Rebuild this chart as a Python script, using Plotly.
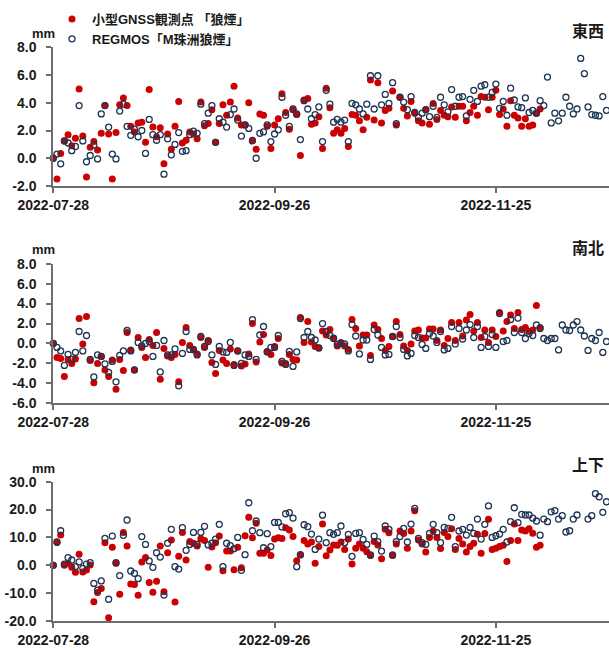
import plotly.graph_objects as go
import pandas as pd

start_date = "2022-07-28"
tick_dates = ["2022-07-28", "2022-09-26", "2022-11-25"]
panel_titles = ["東西", "南北", "上下"]
series_names = ["小型GNSS観測点 「狼煙」", "REGMOS「M珠洲狼煙」"]

# 東西 (mm)
ew_gnss = [0.0, -1.5, 0.35, 1.25, 1.7, 0.9, 1.45, 5.0, 1.6, -1.35, 0.8, 1.2, 0.6, 1.8, 3.8, 1.75, -1.5, 1.85, 3.85, 4.35,
           3.8, 2.3, 1.9, 2.55, 2.6, 1.15, 4.95, 2.25, 1.55, 2.2, -0.4, 1.75, 0.65, 2.3, 4.1, 1.1, 1.3, 1.9, 1.75, 1.4,
           4.05, 2.35, 2.5, 3.5, 1.15, 2.5, 3.85, 3.1, 4.05, 5.2, 2.9, 2.4, 2.4, 4.0, 1.3, 0.65, 3.2, 3.1, 2.3, 0.7,
           2.4, 2.85, 4.65, 3.3, 2.1, 3.5, 3.15, 0.2, 4.2, 4.3, 2.45, 2.55, 3.0, 0.7, 5.05, 3.65, 1.8, 2.05, 1.8, 2.15,
           0.85, 3.15, 3.1, 2.7, 2.05, 2.95, 5.65, 2.75, 5.45, 2.55, 3.45, 3.6, 4.85, 2.4, 4.4, 3.6, 3.05, 4.1, 3.25, 2.7,
           2.55, 3.5, 2.45, 3.95, 2.8, 3.45, 3.1, 3.0, 3.7, 2.95, 3.75, 3.75, 2.7, 3.3, 3.75, 3.1, 4.45, 4.4, 3.5, 4.4,
           4.9, 3.15, 3.55, 2.3, 4.15, 3.1, 2.9, 2.3, 2.85, 2.3, 2.4, 3.25, 3.55]
ew_regmos = [0.0, 0.3, -0.4, 1.25, 1.1, 0.55, 0.85, 3.8, 1.25, -0.25, 0.2, 0.95, -0.05, 3.2, 3.8, 2.25, 0.3, -0.05, 3.4, 3.9,
             2.3, 1.65, 2.1, 1.55, 2.0, 0.35, 2.8, 1.7, 1.3, 1.7, -1.15, 1.4, 0.25, 1.0, 1.85, 0.5, 0.55, 1.7, 1.95, 1.8,
             3.9, 2.5, 3.25, 3.8, 1.15, 2.85, 2.6, 2.25, 3.15, 3.55, 2.75, 1.6, 2.4, 2.15, 1.25, 0.0, 1.8, 1.9, 2.4, 1.2,
             1.75, 2.05, 4.4, 3.1, 2.3, 3.55, 3.2, 1.35, 4.15, 3.55, 2.85, 3.15, 3.7, 1.2, 4.9, 3.9, 2.6, 2.8, 2.6, 2.75,
             1.2, 3.95, 3.85, 3.55, 3.2, 3.9, 5.95, 3.55, 5.95, 3.85, 4.6, 3.95, 5.45, 2.5, 4.4, 4.05, 3.5, 4.45, 3.3, 2.95,
             3.25, 3.5, 3.0, 3.75, 2.95, 4.4, 3.85, 3.35, 4.95, 3.75, 4.4, 4.45, 3.05, 4.25, 4.9, 4.1, 5.2, 5.3, 4.4, 4.75,
             5.35, 3.6, 4.1, 3.1, 5.05, 4.2, 3.7, 3.65, 4.35, 3.3, 3.45, 3.25, 4.15, 3.8, 5.85, 2.55, 3.25, 2.7, 3.25, 4.4,
             3.75, 3.2, 3.55, 7.2, 6.1, 3.7, 3.15, 3.1, 3.05, 4.45, 3.45]

# 南北 (mm)
ns_gnss = [0.0, -1.4, -1.5, -3.3, -1.6, -2.0, -1.55, 2.5, -0.05, 2.7, -1.7, -3.95, -2.0, -1.3, -2.65, -3.3, -1.65, -4.6, -1.6, -2.7,
           1.1, -0.65, -2.65, 0.6, -0.4, -1.4, 0.4, -0.2, 1.1, -3.6, -0.5, -1.25, -1.4, -1.1, -3.85, 0.1, 1.6, -0.2, -0.65, -1.05,
           0.6, -0.4, 0.3, -1.9, -3.0, -0.7, -1.65, -2.0, -0.55, -2.1, -0.75, -2.25, -2.05, -1.05, 2.0, -1.85, 0.15, 0.9, -0.8, -1.1,
           -0.3, 0.5, -1.95, -2.0, -1.1, -1.6, -1.65, 2.6, 0.1, 2.2, 0.15, -0.3, -0.45, 1.25, 0.85, 1.4, 0.55, -0.25, 0.1, -0.25,
           -0.6, 2.4, 1.5, -0.25, 0.85, 0.85, -1.2, 1.85, 1.4, 0.5, -0.7, -0.3, 0.7, 2.2, 0.9, -0.25, -0.7, -0.05, 1.25, 1.35,
           0.55, 0.55, 1.45, 1.45, 0.3, 1.35, -0.2, 0.5, 2.1, 0.3, 2.1, 0.75, 2.35, 2.9, 1.25, 2.1, 0.6, 1.35, 0.1, 1.35,
           0.7, 3.1, 1.25, 2.2, 2.85, 1.5, 3.1, 1.4, 1.6, 1.2, 1.35, 3.8, 1.6]
ns_regmos = [0.0, -0.4, -0.75, -2.2, -1.1, -1.6, -0.9, 1.2, -0.75, 0.8, -1.6, -3.35, -1.15, -1.3, -2.05, -2.9, -1.8, -3.85, -1.2, -0.75,
             1.3, -0.75, -2.65, 0.1, -0.25, 0.0, 0.2, -1.3, -0.2, -2.85, 0.3, -1.15, -1.15, -0.55, -4.25, -1.0, 1.2, -0.6, -0.6, -1.15,
             0.7, -0.3, 0.2, -1.15, -2.1, -0.3, -0.85, -0.9, 0.1, -2.2, -0.75, -2.0, -1.15, -1.3, 2.4, -1.6, 0.85, 1.7, -0.85, -0.4,
             -0.4, 0.8, -1.8, -2.1, -0.8, -2.3, -0.85, 2.5, 0.6, 1.2, 0.6, 0.35, -0.45, 2.0, 1.2, 0.8, 0.5, -0.1, 0.0, -0.05,
             -0.75, 1.9, 0.75, -1.05, 0.35, 0.35, -1.6, 1.4, 0.85, -0.4, -1.15, -1.1, 0.7, 1.7, 0.6, -0.6, -1.25, -1.0, 0.8, 0.6,
             -0.1, -0.5, 1.0, 0.75, 0.1, 1.2, -0.65, -0.5, 1.7, -0.05, 1.5, 0.45, 1.35, 1.9, 0.6, 1.7, -0.4, 0.7, -0.3, 0.9,
             -0.4, 3.0, 0.2, 0.3, 2.4, 1.1, 2.55, 1.1, 0.5, 1.0, 0.8, 1.85, 1.5, 0.5, 0.3, 0.5, 0.5, -0.65, 1.85, 1.35,
             1.3, 1.85, 2.2, 1.35, 0.75, -0.7, 0.5, 0.3, 1.1, -0.9, 0.2]

# 上下 (mm)
ud_gnss = [0.0, 8.2, 10.9, 0.0, 0.7, -0.7, -2.5, 4.0, -2.4, -1.7, 0.1, -13.1, -9.8, -8.3, 8.1, -18.8, 6.45, 0.7, -10.4, 11.8,
           6.9, -6.7, -6.9, -10.8, 1.2, 2.8, -6.2, -9.7, -5.7, 6.9, -9.5, 4.5, 9.1, -13.2, 3.2, 11.8, 1.9, 8.5, 7.9, 6.9,
           9.5, 8.9, -0.7, 6.55, 8.1, 10.5, -1.95, 5.1, 5.1, -1.6, 6.45, -0.9, 10.6, 17.2, 9.9, 15.1, 4.3, 4.3, 5.5, 3.55,
           9.4, 9.9, 9.65, 13.5, 12.7, 10.3, 1.65, 3.7, 8.85, 7.6, 8.35, 0.7, 6.7, 14.8, 3.45, 5.5, 7.3, 7.15, 8.35, 5.7,
           9.4, 0.45, 6.1, 7.6, 6.1, 4.9, 3.55, 8.5, 7.3, 2.35, 12.9, 11.7, 3.55, 7.6, 12.3, 11.45, 6.1, 12.3, 19.6, 9.05,
           7.6, 4.75, 10.0, 12.3, 10.0, 6.0, 11.8, 10.3, 13.15, 5.7, 9.65, 7.6, 4.75, 6.7, 7.9, 11.1, 4.3, 11.45, 16.5, 5.7,
           6.1, 6.7, 7.15, 1.4, 8.85, 14.8, 8.85, 12.7, 12.3, 13.1, 11.5, 6.45, 7.2]
ud_regmos = [0.0, 8.35, 12.4, 0.45, 2.75, 1.9, -0.5, 1.2, -1.1, 0.45, 0.95, -6.5, -8.9, -5.6, 9.65, -12.2, 10.5, 0.95, -3.7, 10.75,
             16.25, -2.05, -2.9, -4.8, 10.3, 7.5, 1.55, -0.75, 4.5, 2.95, -10.7, 7.9, 12.9, -0.5, -1.35, 13.5, 5.35, 7.5, 11.8, 7.5,
             11.8, 14.0, 7.3, 7.9, 9.4, 14.7, -0.5, 7.9, 7.05, 5.95, 10.0, -1.8, 3.8, 22.45, 12.4, 15.9, 11.7, 6.3, 11.35, 6.7,
             15.4, 15.4, 13.75, 18.5, 18.9, 16.95, -0.5, 3.8, 14.55, 13.85, 11.2, 5.7, 9.4, 18.0, 8.1, 11.7, 11.1, 11.7, 14.1, 8.1,
             11.1, 3.2, 11.45, 11.7, 9.3, 7.5, 3.7, 10.5, 8.5, 5.1, 14.1, 12.9, 3.7, 8.5, 10.3, 13.25, 8.35, 14.8, 20.4, 9.65,
             8.1, 7.5, 11.45, 14.7, 11.7, 8.1, 13.6, 13.25, 17.2, 6.7, 12.3, 12.9, 10.85, 13.6, 11.45, 16.6, 9.4, 14.7, 21.3, 10.0,
             10.6, 11.2, 12.9, 8.35, 15.65, 20.65, 15.3, 18.3, 18.05, 18.05, 16.9, 15.9, 10.8, 16.6, 15.65, 19.2, 19.6, 16.6, 17.8, 11.95,
             12.4, 16.6, 18.05, None, None, 16.6, 17.8, 25.7, 24.6, 19.0, 22.8]

y_ranges = [[-2, 8], [-6, 8], [-20, 30]]
y_ticks = [[-2, 0, 2, 4, 6, 8], [-6, -4, -2, 0, 2, 4, 6, 8], [-20, -10, 0, 10, 20, 30]]

# ---- layout geometry (pixels) ----
W, H = 609, 650
ML = 53
plot_w = W - ML
panel_px = [(47.3, 186.0), (263.7, 403.3), (481.7, 621.0)]  # (top, bottom)
title_y_px = [30, 247, 464]
mm_y_px = [33, 249, 468]

dates_all = pd.date_range(start_date, periods=len(ew_regmos), freq="D")
dates_g = dates_all[:len(ew_gnss)]
px_per_day = 3.69
x_end = pd.Timestamp(start_date) + pd.Timedelta(days=plot_w / px_per_day)
x_range = [pd.Timestamp(start_date) - pd.Timedelta(hours=2), x_end]

FONT = "Liberation Sans, Arial, Noto Sans CJK JP, sans-serif"
RED = "#cc0000"
NAVY = "#1e3553"
AXIS = "#6e6e6e"
TXT = "#1a1a1a"

data_sets = [(ew_gnss, ew_regmos), (ns_gnss, ns_regmos), (ud_gnss, ud_regmos)]

fig = go.Figure()
for i, (g, r) in enumerate(data_sets):
    suffix = "" if i == 0 else str(i + 1)
    fig.add_trace(go.Scatter(
        x=dates_g, y=g, mode="markers", name=series_names[0],
        xaxis="x" + suffix, yaxis="y" + suffix, showlegend=(i == 0),
        marker=dict(symbol="circle", size=7, color=RED, line=dict(width=0)),
        cliponaxis=False,
    ))
for i, (g, r) in enumerate(data_sets):
    suffix = "" if i == 0 else str(i + 1)
    fig.add_trace(go.Scatter(
        x=dates_all, y=r, mode="markers", name=series_names[1],
        xaxis="x" + suffix, yaxis="y" + suffix, showlegend=(i == 0),
        marker=dict(symbol="circle-open", size=6, color=NAVY, line=dict(width=1.3, color=NAVY)),
        cliponaxis=False,
    ))

layout = dict(
    width=W, height=H,
    margin=dict(l=ML, r=0, t=0, b=0),
    paper_bgcolor="white", plot_bgcolor="white",
    font=dict(family=FONT, size=13, color=TXT),
    showlegend=True,
    legend=dict(
        x=(52 - ML) / plot_w, y=1 - 4 / H, xanchor="left", yanchor="top",
        bgcolor="rgba(0,0,0,0)", font=dict(family=FONT, size=13, color=TXT, weight="bold"),
        tracegroupgap=0, itemsizing="trace",
    ),
)
annotations = []
for i in range(3):
    suffix = "" if i == 0 else str(i + 1)
    top, bot = panel_px[i]
    layout["xaxis" + suffix] = dict(
        domain=[0, 1], anchor="y" + suffix, type="date", range=x_range,
        tickvals=tick_dates, ticktext=tick_dates,
        showgrid=False, zeroline=False, showline=True, linecolor=AXIS, linewidth=1.5,
        ticks="outside", ticklen=5, tickwidth=1.5, tickcolor=AXIS,
        tickfont=dict(family=FONT, size=14, color=TXT, weight="bold"),
        automargin=False,
    )
    layout["yaxis" + suffix] = dict(
        domain=[1 - bot / H, 1 - top / H], anchor="x" + suffix, range=y_ranges[i],
        tickvals=y_ticks[i], ticktext=[f"{v:.1f}" for v in y_ticks[i]],
        showgrid=False, zeroline=False, showline=True, linecolor=AXIS, linewidth=1.5,
        ticks="outside", ticklen=5, tickwidth=1.5, tickcolor=AXIS,
        tickfont=dict(family=FONT, size=14, color=TXT, weight="bold"),
        ticklabelstandoff=7,
        automargin=False,
    )
    annotations.append(dict(
        text=panel_titles[i], xref="paper", yref="paper",
        x=(606 - ML) / plot_w, y=1 - title_y_px[i] / H, xanchor="right", yanchor="middle",
        showarrow=False, font=dict(family="Noto Sans CJK JP", size=16, color=TXT, weight="bold"),
    ))
    annotations.append(dict(
        text="mm", xref="paper", yref="paper",
        x=(57 - ML) / plot_w, y=1 - mm_y_px[i] / H, xanchor="right", yanchor="middle",
        showarrow=False, font=dict(family=FONT, size=13, color=TXT, weight="bold"),
    ))
layout["annotations"] = annotations
fig.update_layout(**layout)

fig.write_html("out.html")
